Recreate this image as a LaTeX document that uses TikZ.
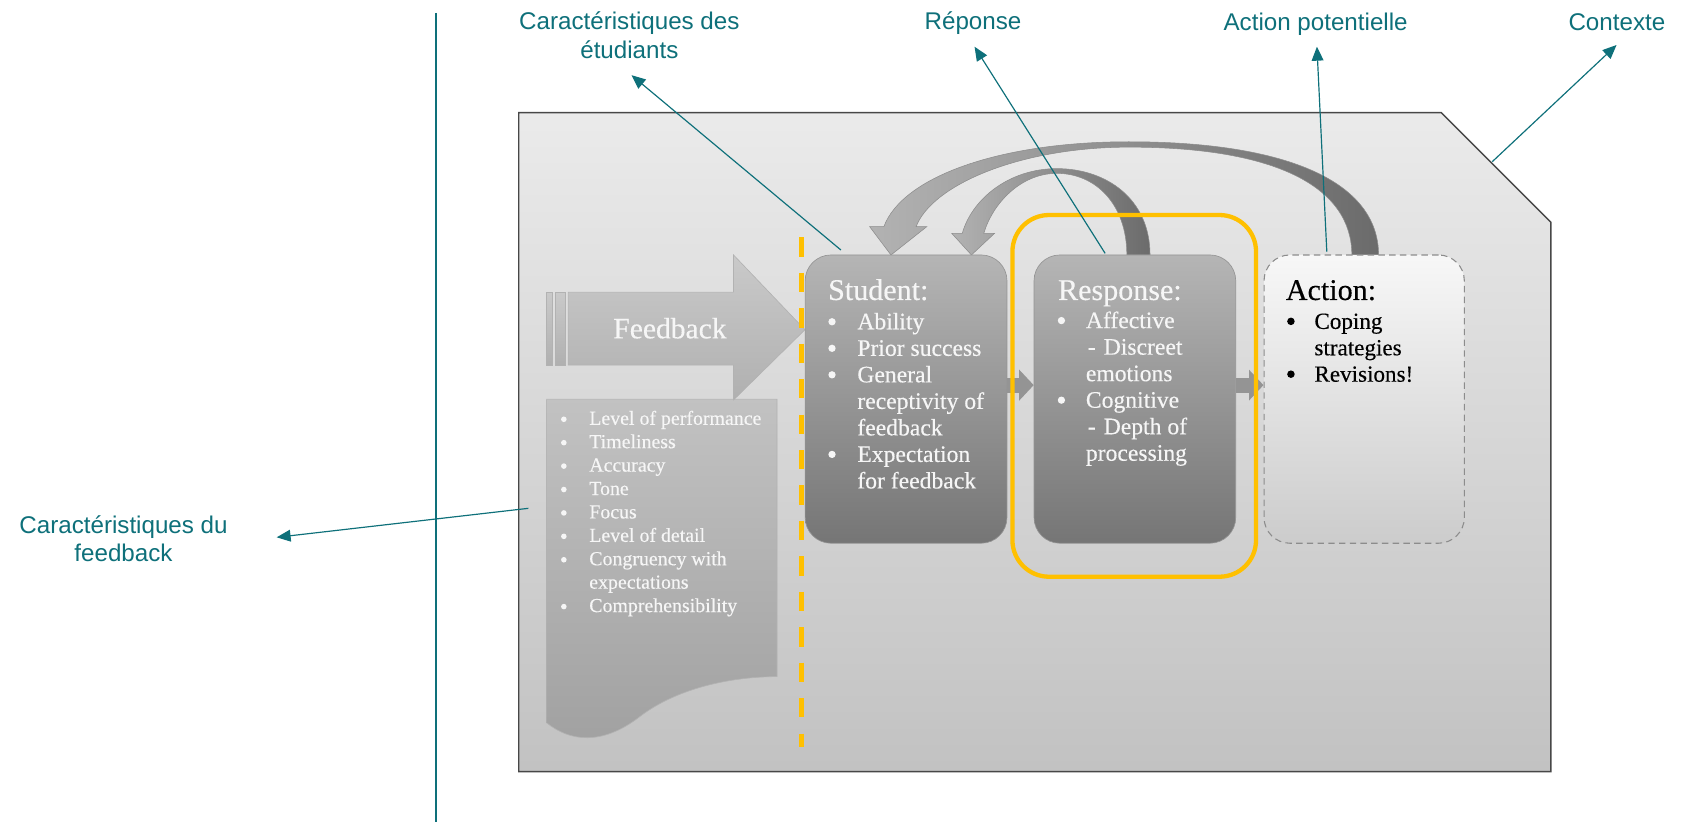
\documentclass[tikz,border=0pt]{standalone}
\usepackage{fontspec}
\setmainfont{Liberation Serif}[FakeBold=0.35]
\newfontfamily\labfont{Liberation Sans}
\usetikzlibrary{arrows.meta}
\definecolor{teal1}{RGB}{14,112,122}
\definecolor{gold}{RGB}{255,192,0}
\definecolor{wtxt}{RGB}{246,246,246}
\begin{document}
\begin{tikzpicture}[x=1pt,y=-1pt,
  lbl/.style={text=teal1, font=\labfont\fontsize{22.5}{26}\selectfont, inner sep=0pt, anchor=base},
  ann/.style={draw=teal1, line width=1.1pt, -{Triangle[length=13pt,width=11pt]}},
  wt/.style={text=wtxt, inner sep=0pt, anchor=base west, font=\fontsize{22}{26}\selectfont},
  bk/.style={text=black, inner sep=0pt, anchor=base west, font=\fontsize{21.5}{26}\selectfont},
  ttl/.style={font=\fontsize{28}{32}\selectfont},
  fl/.style={text=wtxt, inner sep=0pt, anchor=base west, font=\fontsize{18.5}{22}\selectfont},
  dot/.style={circle, fill=wtxt, inner sep=0pt, minimum size=6.8pt},
  sdot/.style={circle, fill=wtxt, inner sep=0pt, minimum size=5.2pt},
  kdot/.style={circle, fill=black, inner sep=0pt, minimum size=7pt},
  sbox/.style={rounded corners=24pt, top color=black!29, bottom color=black!54, draw=black!42, line width=0.6pt, inner sep=0pt, minimum height=268.4pt},
  abox/.style={rounded corners=24pt, top color=black!3, bottom color=black!20, draw=black!45, dash pattern=on 6pt off 4pt, line width=1pt, inner sep=0pt, minimum height=268.4pt},
  conn/.style={draw=black!42, line width=14pt, -{Triangle[length=13.5pt,width=28pt]}},
  curv/.style={left color=black!30, right color=black!58, draw=black!45, line width=0.5pt},
  paper/.style={top color=black!24, bottom color=black!37, draw=black!30, line width=0.6pt}
]
\useasboundingbox (0,0) rectangle (1568,765.4);

% vertical separator
\draw[teal1, line width=1.6pt] (406,12) -- (406,765.4);

% labels
\node[lbl] (l1a) at (586,27.9) {Caractéristiques des};
\node[lbl] (l1b) at (586,54.3) {étudiants};
\node[lbl] (l2) at (906,27.9) {Réponse};
\node[lbl] (l3) at (1225,28.6) {Action potentielle};
\node[lbl] (l4) at (1505.5,28.6) {Contexte};
\node[lbl] (l5a) at (115,496.6) {Caractéristiques du};
\node[lbl] (l5b) at (115,523) {feedback};

% panel
\shade[top color=black!8, bottom color=black!24, draw=black!72, line width=1.3pt]
  (483,104.9) -- (1342,104.9) -- (1444,207) -- (1444,718.5) -- (483,718.5) -- cycle;

% feedback list (document shape)
\shade[paper] (509,371.6) -- (723.5,371.6) -- (723.5,630)
  .. controls (680,630) and (630,641) .. (596,667)
  .. controls (560,695) and (530,690) .. (509,673) -- cycle;

% feedback arrow
\shade[paper, top color=black!21, bottom color=black!31]
  (529,272) -- (683,272) -- (683,237.4) -- (749.5,307) -- (683,372.4) -- (683,340) -- (529,340) -- cycle;
\shade[paper, top color=black!21, bottom color=black!31] (509,272) rectangle (514.6,340);
\shade[paper, top color=black!21, bottom color=black!31] (516.8,272) rectangle (526.7,340);
\node[wt, anchor=base, font=\fontsize{27.5}{30}\selectfont] (fb) at (623.8,315) {Feedback};

\foreach \t/\b [count=\i from 0] in {Level of performance/1,Timeliness/1,Accuracy/1,Tone/1,Focus/1,Level of detail/1,Congruency with/1,expectations/0,Comprehensibility/1}{
  \node[fl] (fl\i) at (548.5,395.5+21.8*\i) {\t};
  \ifnum\b=1 \node[sdot] (fb\i) at (525,390.4+21.8*\i) {};\fi
}

% orange dashed separator
\draw[gold, line width=4.3pt, dash pattern=on 18pt off 15pt] (746.4,221) -- (746.4,695.2);

% curved feedback loops
\shade[curv]
  (1283.6,237.4) .. controls (1283.6,170) and (1200,132) .. (1051,132)
  .. controls (930,132) and (840,165) .. (823,211)
  -- (809.7,211) -- (829.6,237.4) -- (863,211) -- (853,211)
  .. controls (868,172) and (950,137) .. (1051,137)
  .. controls (1190,137) and (1258.7,175) .. (1258.7,237.4) -- cycle;
\shade[curv]
  (1070.8,237.4) .. controls (1070.8,185) and (1030,157) .. (984,157)
  .. controls (940,157) and (905,185) .. (896,217.3)
  -- (886.2,217.3) -- (904.5,237.4) -- (926,217.3) -- (916,217.3)
  .. controls (924,190) and (950,161.4) .. (984,161.4)
  .. controls (1020,161.4) and (1049.2,190) .. (1049.2,237.4) -- cycle;

% boxes
\node[sbox, minimum width=187.9pt] (student) at (843.65,371.6) {};
\node[sbox, minimum width=187.8pt] (response) at (1056.7,371.6) {};
\node[abox, minimum width=186.5pt] (action) at (1270.2,371.6) {};

\draw[conn] ([yshift=13pt]student.east) -- ([yshift=13pt]response.west);
\draw[conn] ([yshift=13pt]response.east) -- ([yshift=13pt]action.west);

% student text
\node[wt, ttl] (st0) at (770.9,279.3) {Student:};
\node[wt] (st1) at (798.1,306.6) {Ability};
\node[wt] (st2) at (798.1,331.3) {Prior success};
\node[wt] (st3) at (798.1,356.0) {General};
\node[wt] (st4) at (798.1,380.7) {receptivity of};
\node[wt] (st5) at (798.1,405.4) {feedback};
\node[wt] (st6) at (798.1,430.1) {Expectation};
\node[wt] (st7) at (798.1,454.8) {for feedback};
\foreach \y [count=\i] in {306.6,331.3,356.0,430.1}
  \node[dot] (sb\i) at (774.7,\y-7) {};

% response text
\node[wt, ttl] (rs0) at (985,279.3) {Response:};
\node[wt] (rs1) at (1010.9,305.5) {Affective};
\node[wt] (rs2) at (1012.6,330.2) {-\hspace{7.6pt}Discreet};
\node[wt] (rs3) at (1010.9,354.9) {emotions};
\node[wt] (rs4) at (1010.9,379.6) {Cognitive};
\node[wt] (rs5) at (1012.6,404.3) {-\hspace{7.6pt}Depth of};
\node[wt] (rs6) at (1010.9,429.0) {processing};
\node[dot] (rb1) at (988.3,298.5) {};
\node[dot] (rb2) at (988.3,372.6) {};

% action text
\node[bk, ttl] (ac0) at (1197.1,279.3) {Action:};
\node[bk] (ac1) at (1223.7,306.2) {Coping};
\node[bk] (ac2) at (1223.7,330.8) {strategies};
\node[bk] (ac3) at (1223.7,355.4) {Revisions!};
\node[kdot] (ab1) at (1202,299.2) {};
\node[kdot] (ab2) at (1202,348.4) {};

% highlight frame around Response
\node[draw=gold, line width=4pt, rounded corners=34pt, minimum width=226.8pt, minimum height=336.8pt, inner sep=0pt] (resframe) at (1056.1,368.6) {};

% annotation arrows
\coordinate (a1s) at (783,232.8);   \coordinate (a1e) at (588,70);
\coordinate (a2s) at (1029,235.9);  \coordinate (a2e) at (907.4,43.5);
\coordinate (a3s) at (1235.4,234.3);\coordinate (a3e) at (1226.2,43.5);
\coordinate (a4s) at (1389.5,150.5);\coordinate (a4e) at (1505.2,41.9);
\coordinate (a5s) at (492,473.3);   \coordinate (a5e) at (257.6,500.3);
\draw[ann] (a1s) -- (a1e);
\draw[ann] (a2s) -- (a2e);
\draw[ann] (a3s) -- (a3e);
\draw[ann] (a4s) -- (a4e);
\draw[ann] (a5s) -- (a5e);
\end{tikzpicture}
\end{document}
